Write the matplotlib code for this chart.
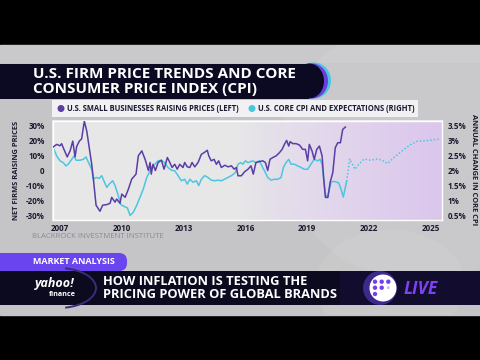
import numpy as np
import matplotlib
matplotlib.use("Agg")
import matplotlib.pyplot as plt
from matplotlib.patches import Rectangle, Ellipse, Circle, FancyBboxPatch, Arc

# ---- data ----------------------------------------------------------------
biz_year = [2006.67, 2006.84, 2007.00, 2007.08, 2007.16, 2007.35, 2007.49, 2007.62, 2007.73,
            2007.81, 2007.94, 2008.05, 2008.18, 2008.30, 2008.42, 2008.54, 2008.62, 2008.75,
            2008.94, 2009.07, 2009.27, 2009.43, 2009.51, 2009.67, 2009.75, 2009.91, 2010.00,
            2010.16, 2010.32, 2010.48, 2010.69, 2010.80, 2010.97, 2011.13, 2011.29, 2011.37,
            2011.43, 2011.51, 2011.63, 2011.76, 2011.92, 2012.05, 2012.21, 2012.33, 2012.44,
            2012.57, 2012.69, 2012.81, 2012.97, 2013.05, 2013.18, 2013.30, 2013.41, 2013.54,
            2013.70, 2013.86, 2013.99, 2014.15, 2014.22, 2014.34, 2014.48, 2014.59, 2014.70,
            2014.83, 2015.00, 2015.16, 2015.32, 2015.45, 2015.56, 2015.64, 2015.80, 2015.97,
            2016.13, 2016.27, 2016.38, 2016.51, 2016.67, 2016.84, 2016.97, 2017.08, 2017.19,
            2017.33, 2017.49, 2017.65, 2017.78, 2017.89, 2018.00, 2018.10, 2018.17, 2018.30,
            2018.46, 2018.62, 2018.78, 2018.91, 2019.02, 2019.10, 2019.23, 2019.34, 2019.46,
            2019.59, 2019.72, 2019.80, 2019.88, 2020.00, 2020.11, 2020.24, 2020.36, 2020.48,
            2020.61, 2020.72, 2020.85]
biz_pct = [15.6, 17.3, 16.4, 17.8, 15.0, 9.0, 13.0, 19.5, 9.0,
           16.0, 19.5, 21.0, 32.7, 26.0, 15.0, 4.0, -5.7, -23.0,
           -27.0, -23.0, -22.6, -21.7, -17.8, -21.0, -18.9, -21.7, -15.6,
           -17.8, -12.3, -5.7, -2.4, 9.7, 13.0, 7.4, 0.0, 5.3,
           -2.4, 4.1, 0.0, 5.3, 6.8, 0.9, 8.6, 5.3, 2.0,
           4.1, 0.9, 4.1, 2.0, 5.3, 2.4, 2.0, 5.3, 2.4,
           5.3, 10.7, 11.8, 13.4, 9.7, 6.4, 7.4, 4.1, 6.4,
           2.0, 3.5, 2.4, 3.1, 0.9, 2.0, -3.5, -3.5, -0.7,
           0.9, 3.1, -2.4, 5.3, 5.9, 6.4, 5.3, 0.0, 7.4,
           8.6, 9.7, 11.8, 14.0, 17.3, 19.9, 16.2, 19.1, 17.8,
           17.8, 16.9, 14.0, 14.0, 6.4, 17.3, 13.0, 7.4, 14.0,
           16.2, 9.7, -5.7, -17.8, -17.8, -7.9, -1.3, 15.1, 18.4,
           18.4, 27.2, 28.8]

cpi_year = [2006.67, 2006.84, 2007.00, 2007.16, 2007.29, 2007.40, 2007.57, 2007.68, 2007.78,
            2007.97, 2008.13, 2008.26, 2008.42, 2008.54, 2008.62, 2008.75, 2008.91, 2009.02,
            2009.14, 2009.27, 2009.39, 2009.56, 2009.67, 2009.83, 2009.95, 2010.11, 2010.27,
            2010.40, 2010.56, 2010.72, 2010.88, 2011.04, 2011.21, 2011.37, 2011.43, 2011.60,
            2011.76, 2011.92, 2012.08, 2012.24, 2012.40, 2012.57, 2012.73, 2012.89, 2013.05,
            2013.18, 2013.30, 2013.46, 2013.62, 2013.73, 2013.86, 2014.02, 2014.18, 2014.34,
            2014.51, 2014.67, 2014.83, 2015.07, 2015.32, 2015.51, 2015.64, 2015.77, 2015.88,
            2016.00, 2016.13, 2016.35, 2016.51, 2016.67, 2016.84, 2016.97, 2017.08, 2017.24,
            2017.40, 2017.57, 2017.73, 2017.84, 2017.97, 2018.10, 2018.21, 2018.37, 2018.54,
            2018.70, 2018.86, 2019.02, 2019.18, 2019.34, 2019.51, 2019.62, 2019.72, 2019.80,
            2019.88, 2019.98, 2020.16, 2020.27, 2020.40, 2020.53, 2020.64, 2020.75, 2020.91]
cpi_pct = [2.76, 2.48, 2.32, 2.26, 2.15, 2.21, 2.37, 2.48, 2.34,
           2.34, 2.37, 2.45, 2.21, 2.04, 1.71, 1.77, 1.74, 1.83,
           1.64, 1.44, 1.55, 1.66, 1.50, 1.17, 0.87, 0.81, 0.76,
           0.51, 0.62, 0.84, 1.11, 1.38, 1.77, 1.99, 2.10, 2.21,
           2.32, 2.34, 2.26, 2.10, 2.01, 1.99, 1.83, 1.66, 1.71,
           1.55, 1.71, 1.61, 1.66, 1.50, 1.71, 1.83, 1.77, 1.68,
           1.66, 1.68, 1.66, 1.74, 1.83, 1.93, 2.21, 2.26, 2.21,
           2.32, 2.26, 2.32, 2.26, 2.32, 2.10, 1.93, 1.77, 1.68,
           1.71, 1.71, 1.77, 2.10, 2.26, 2.37, 2.21, 2.21, 2.15,
           2.10, 2.04, 2.04, 2.21, 2.37, 2.32, 2.37, 2.21, 1.71,
           1.22, 1.10, 1.61, 1.64, 1.62, 1.59, 1.38, 1.12, 1.64]

exp_year = [2020.91, 2021.06, 2021.32, 2021.51, 2021.76, 2022.08, 2022.40, 2022.65, 2022.89,
            2023.21, 2023.62, 2024.02, 2024.34, 2024.83, 2025.40]
exp_pct = [1.64, 2.38, 2.04, 2.21, 2.38, 2.34, 2.38, 2.34, 2.23,
           2.43, 2.66, 2.86, 2.97, 2.99, 3.04]

year_ticks = [2007, 2010, 2013, 2016, 2019, 2022, 2025]
left_ticks = [-30, -20, -10, 0, 10, 20, 30]
left_labels = ["-30%", "-20%", "-10%", "0", "10%", "20%", "30%"]
right_ticks = [0.5, 1.0, 1.5, 2.0, 2.5, 3.0, 3.5]
right_labels = ["0.5%", "1%", "1.5%", "2%", "2.5%", "3%", "3.5%"]

PURPLE = "#5a3ea6"
CYAN = "#4cc6e0"
NAVY = "#0c0a22"
INK = "#1c1a30"

plt.rcParams["font.family"] = ["Open Sans", "DejaVu Sans"]

fig = plt.figure(figsize=(4.8, 3.6), dpi=100)

# ---- background frame, drawn in pixel coordinates ------------------------
bg = fig.add_axes([0, 0, 1, 1])
bg.set_xlim(0, 480)
bg.set_ylim(360, 0)
bg.axis("off")
bg.add_patch(Rectangle((0, 0), 480, 360, color="black"))
frame = Rectangle((0, 45), 480, 270, color="#c5c5c7")
bg.add_patch(frame)
for glow in [Ellipse((420, 150), 280, 260, color="white", alpha=0.08, lw=0),
             Ellipse((390, 285), 150, 110, color="white", alpha=0.07, lw=0),
             Rectangle((0, 45), 480, 18, color="white", alpha=0.08, lw=0)]:
    bg.add_patch(glow)
    glow.set_clip_path(frame)

# title banner
bg.add_patch(Ellipse((314, 80.5), 34, 36, color=CYAN, lw=0))
bg.add_patch(Ellipse((312, 81), 32, 35, color="#6a3fe0", lw=0))
bg.add_patch(Ellipse((309, 81), 30, 35, color=NAVY, lw=0))
bg.add_patch(Rectangle((0, 63.5), 309, 35, color=NAVY, lw=0))
bg.text(33, 73.5, "U.S. FIRM PRICE TRENDS AND CORE", color="white", fontsize=11,
        fontweight="bold", va="center", ha="left")
bg.text(33, 88.5, "CONSUMER PRICE INDEX (CPI)", color="white", fontsize=11,
        fontweight="bold", va="center", ha="left")

# legend strip
bg.add_patch(Rectangle((52, 100), 366, 17, color="#f1f1f3", lw=0))
bg.add_patch(Circle((61, 108.5), 3.5, color=PURPLE, lw=0))
bg.text(67, 108.7, "U.S. SMALL BUSINESSES RAISING PRICES (LEFT)", color=INK,
        fontsize=5.5, fontweight="bold", va="center", ha="left")
bg.add_patch(Circle((252, 108.5), 3.5, color=CYAN, lw=0))
bg.text(258, 108.7, "U.S. CORE CPI AND EXPECTATIONS (RIGHT)", color=INK,
        fontsize=5.5, fontweight="bold", va="center", ha="left")

# plot panel
bg.add_patch(Rectangle((52, 120), 391, 101, color="white", alpha=0.6, lw=0))

bg.text(17, 170, "NET FIRMS RAISING PRICES", rotation=90, color=INK,
        fontsize=5.4, fontweight="bold", va="center", ha="center")
bg.text(473, 170, "ANNUAL CHANGE IN CORE CPI", rotation=-90, color=INK,
        fontsize=5.4, fontweight="bold", va="center", ha="center")
bg.text(32, 237, "BLACKROCK INVESTMENT INSTITUTE", color="#8a8a98",
        fontsize=5.6, va="center", ha="left")

# lower third
bg.add_patch(FancyBboxPatch((-20, 253), 147, 18, boxstyle="round,pad=0,rounding_size=8",
                            color="#6a44ee", lw=0))
bg.text(33, 262, "MARKET ANALYSIS", color="white", fontsize=6.5, fontweight="bold",
        va="center", ha="left")
bg.add_patch(Rectangle((0, 271), 480, 34, color="#0b0a1f", lw=0))
bg.add_patch(Rectangle((340, 271), 140, 34, color="#1a1040", alpha=0.5, lw=0))
bg.add_patch(Arc((58, 288), 76, 40, theta1=-70, theta2=70, color="#3a2c78", lw=1.4))
bg.text(55, 283, "yahoo!", color="white", fontsize=9, fontweight="bold",
        fontstyle="italic", va="center", ha="center")
bg.text(62, 295, "finance", color="white", fontsize=5.2, fontweight="bold",
        va="center", ha="center")
bg.text(103, 281.5, "HOW INFLATION IS TESTING THE", color="white", fontsize=9.25,
        fontweight="bold", va="center", ha="left")
bg.text(103, 295, "PRICING POWER OF GLOBAL BRANDS", color="white", fontsize=9.25,
        fontweight="bold", va="center", ha="left")
bg.add_patch(Circle((380, 288), 17, color="#3b2a8c", lw=0))
bg.add_patch(Circle((383, 288), 13.5, color="white", lw=0))
for dx, dy in [(375, 281.7), (381.7, 281.7), (388.3, 281.7), (375, 287.7), (381.7, 287.7), (375, 294)]:
    bg.add_patch(Circle((dx, dy), 2.2, color="#7440e8", lw=0))
bg.add_patch(Circle((388.3, 287.7), 1.4, color="#c9b8f0", lw=0))
bg.text(421, 288.5, "LIVE", color="#7d42f2", fontsize=12.5, fontweight="bold",
        fontstyle="italic", va="center", ha="center")

# ---- the chart -----------------------------------------------------------
ax = fig.add_axes([53 / 480, 1 - 220 / 360, 389 / 480, 99 / 360])
ax.set_xlim(2006.66, 2025.54)
ax.set_ylim(-32.8, 32.8)

ax2 = ax.twinx()
ax2.set_ylim(0.36, 3.64)

# light-grey to lavender wash behind the lines (on the back axes)
grad = np.zeros((2, 256, 4))
t = np.clip((np.linspace(0, 1, 256) - 0.48) / 0.52, 0, 1)
grad[..., 0] = 0.86
grad[..., 1] = 0.78
grad[..., 2] = 0.93
grad[..., 3] = t ** 0.8
ax2.imshow(grad, extent=[2006.66, 2025.54, 0.36, 3.64], aspect="auto", zorder=0)
ax2.set_xlim(2006.66, 2025.54)

ax2.plot(cpi_year, cpi_pct, color=CYAN, lw=1.1, zorder=2)
ax2.plot(exp_year, exp_pct, color=CYAN, lw=1.1, ls=(0, (1, 1.3)), zorder=2)
ax2.set_yticks(right_ticks)
ax2.set_yticklabels(right_labels)
ax2.tick_params(length=0, labelsize=5.8, colors=INK, pad=4)
for lab in ax2.get_yticklabels():
    lab.set_fontweight("bold")
for s in ax2.spines.values():
    s.set_visible(False)

ax.plot(biz_year, biz_pct, color=PURPLE, lw=1.1, zorder=3)
ax.set_xticks(year_ticks)
ax.set_yticks(left_ticks)
ax.set_yticklabels(left_labels)
ax.tick_params(length=0, labelsize=5.8, colors=INK, pad=6)
ax.tick_params(axis="x", pad=3)
for lab in ax.get_xticklabels() + ax.get_yticklabels():
    lab.set_fontweight("bold")
for s in ax.spines.values():
    s.set_color("white")
    s.set_linewidth(1.0)

ax2.set_zorder(ax.get_zorder())
ax.set_zorder(ax2.get_zorder() + 1)
ax.patch.set_visible(False)
ax2.patch.set_visible(False)

fig.savefig("out.png", dpi=100)
